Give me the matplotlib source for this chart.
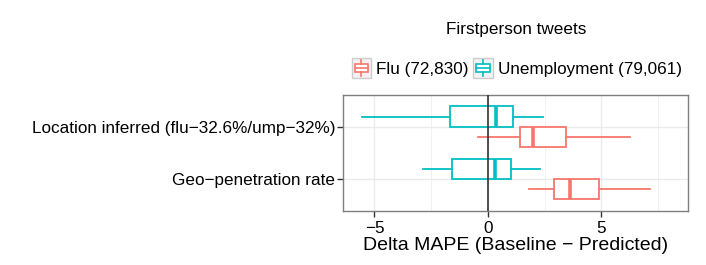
import matplotlib
matplotlib.use('Agg')
import matplotlib.pyplot as plt
from matplotlib.legend_handler import HandlerBase
from matplotlib.patches import Rectangle
from matplotlib.lines import Line2D

plt.rcParams['font.family'] = ['Liberation Sans', 'DejaVu Sans']

categories = ['Geo\u2212penetration rate', 'Location inferred (flu\u221232.6%/ump\u221232%)']
groups = ['Flu (72,830)', 'Unemployment (79,061)']
colors = ['#F8766D', '#00BFC4']

# whisker low, q1, median, q3, whisker high  (per category, per group)
flu_stats = [[1.81, 2.91, 3.63, 4.88, 7.13],
             [-0.44, 1.41, 2.01, 3.44, 6.28]]
ump_stats = [[-2.87, -1.56, 0.32, 1.00, 2.31],
             [-5.53, -1.66, 0.37, 1.13, 2.45]]
xticks = [-5, 0, 5]


class BoxKey(HandlerBase):
    def create_artists(self, legend, orig, xd, yd, w, h, fontsize, trans):
        c = orig.get_edgecolor()
        s = w
        x0 = -xd
        y0 = -yd + (h - s) / 2
        bg = Rectangle((x0, y0), s, s, facecolor='#F2F2F2', edgecolor='#CCCCCC', lw=1, transform=trans)
        box = Rectangle((x0 + s * 0.15, y0 + s * 0.3), s * 0.7, s * 0.4, facecolor='white', edgecolor=c, lw=1.2, transform=trans)
        med = Line2D([x0 + s * 0.15, x0 + s * 0.85], [y0 + s / 2] * 2, color=c, lw=1.2, transform=trans)
        w1 = Line2D([x0 + s / 2] * 2, [y0 + s * 0.08, y0 + s * 0.3], color=c, lw=1.2, transform=trans)
        w2 = Line2D([x0 + s / 2] * 2, [y0 + s * 0.7, y0 + s * 0.92], color=c, lw=1.2, transform=trans)
        return [bg, box, med, w1, w2]


fig = plt.figure(figsize=(7.06, 2.65), dpi=100)
ax = fig.add_axes([0.486, 0.204, 0.489, 0.438])

grid_c = '#EBEBEB'
for gx in [-2.5, 2.5, 7.5]:
    ax.axvline(gx, color=grid_c, lw=0.5, zorder=0)
for gx in xticks:
    ax.axvline(gx, color=grid_c, lw=1.0, zorder=0)
for gy in [1, 2]:
    ax.axhline(gy, color=grid_c, lw=1.0, zorder=0)

off = 0.19
wid = 0.38
for stats_list, color, sign in [(flu_stats, colors[0], -1), (ump_stats, colors[1], 1)]:
    bstats = []
    for s in stats_list:
        bstats.append({'whislo': s[0], 'q1': s[1], 'med': s[2], 'q3': s[3], 'whishi': s[4], 'fliers': []})
    pos = [i + 1 + sign * off for i in range(len(categories))]
    ax.bxp(bstats, positions=pos, widths=wid, vert=False, showcaps=False, patch_artist=True,
           boxprops=dict(facecolor='white', edgecolor=color, lw=1.3),
           whiskerprops=dict(color=color, lw=1.3),
           medianprops=dict(color=color, lw=2.6), manage_ticks=False, zorder=3)

ax.axvline(0, color='#333333', lw=1.2, zorder=4)

ax.set_xlim(-6.38, 8.84)
ax.set_ylim(0.4, 2.6)
ax.set_xticks(xticks)
ax.set_xticklabels(['\u22125', '0', '5'])
ax.set_yticks([1, 2])
ax.set_yticklabels(categories)
ax.tick_params(axis='both', labelsize=12.3, color='#333333', length=4, width=1, labelcolor='black')
ax.tick_params(axis='x', pad=3.5)
ax.tick_params(axis='y', pad=1.5)
for sp in ax.spines.values():
    sp.set_color('#7F7F7F')
    sp.set_linewidth(1)
ax.set_xlabel('Delta MAPE (Baseline \u2212 Predicted)', fontsize=14, labelpad=0.5)

fig.text(0.731, 0.887, 'Firstperson tweets', fontsize=12.3, ha='center', va='center')
handles = [Rectangle((0, 0), 1, 1, edgecolor=c, facecolor='white') for c in colors]
leg = fig.legend(handles, groups, handler_map={Rectangle: BoxKey()}, loc='center',
                 bbox_to_anchor=(0.732, 0.738), ncol=2, frameon=False, fontsize=12.3,
                 handlelength=1.15, handletextpad=0.3, columnspacing=0.25, borderaxespad=0)

fig.savefig('out.png', dpi=100)
